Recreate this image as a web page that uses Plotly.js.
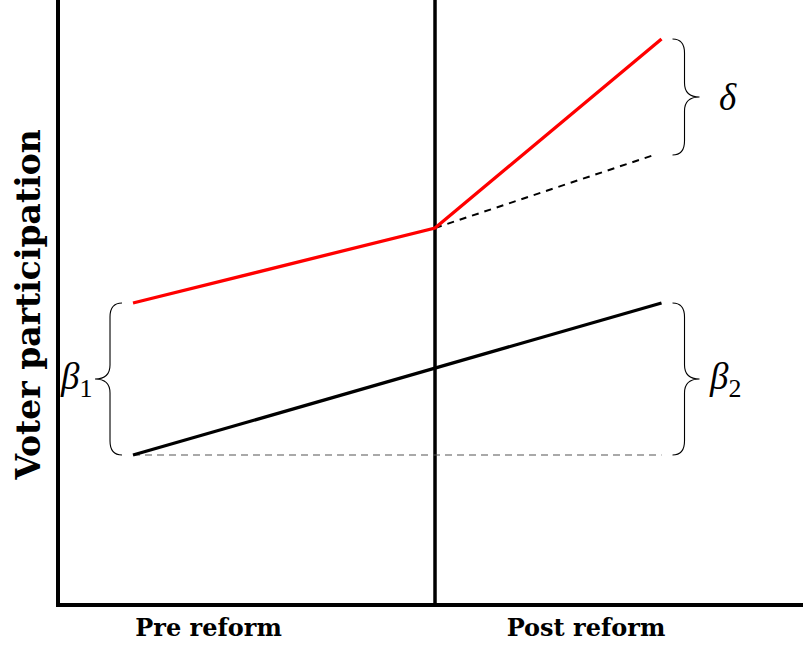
<!DOCTYPE html>
<html>
<head>
<meta charset="utf-8">
<script src="https://cdn.plot.ly/plotly-3.0.1.min.js"></script>
<style>html,body{margin:0;padding:0;background:#fff;}#chart{width:803px;height:646px;}</style>
</head>
<body>
<div id="chart"></div>
<script>
// ---- data ----
const periodX = [1, 5, 8];                 // start, reform, end
const reformX = 5;
const treatedY = [6.04, 7.54, 11.32];      // red group
const controlY = [3.0, 6.04];              // black group (start, end)
const controlX = [1, 8];
const counterfactualX = [5, 7.9];
const counterfactualY = [7.54, 9.0];
const baselineX = [1, 8];
const baselineY = [3.0, 3.0];
const tickPos = [2, 7];
const tickText = ['Pre reform', 'Post reform'];
const yTitle = 'Voter participation';
const labelBeta1 = '<i>β</i><sub>1</sub>';
const labelBeta2 = '<i>β</i><sub>2</sub>';
const labelDelta = '<i>δ</i>';

// ---- geometry ----
const L = 60, R = 0, T = 0, B = 43, W = 803, H = 646;
const xr = [0.033, 9.874], yr = [0.04, 12.1];
const sx = (W - L - R) / (xr[1] - xr[0]);   // px per x unit
const sy = (H - T - B) / (yr[1] - yr[0]);   // px per y unit

function brace(xAnchor, top, bot, dir) {
  const tip = xAnchor + dir * 11 / sx;
  const spine = tip + dir * 12 / sx;
  const point = tip + dir * 27 / sx;
  const mid = (top + bot) / 2;
  const r = 14 / sy;
  return 'M' + tip + ',' + top +
    ' Q' + spine + ',' + top + ' ' + spine + ',' + (top - r) +
    ' L' + spine + ',' + (mid + r) +
    ' Q' + spine + ',' + mid + ' ' + point + ',' + mid +
    ' Q' + spine + ',' + mid + ' ' + spine + ',' + (mid - r) +
    ' L' + spine + ',' + (bot + r) +
    ' Q' + spine + ',' + bot + ' ' + tip + ',' + bot;
}

const traces = [
  {x: baselineX, y: baselineY, mode: 'lines', line: {color: '#555', width: 1.2, dash: '7px,5px'}, hoverinfo: 'skip'},
  {x: controlX, y: controlY, mode: 'lines', line: {color: '#000', width: 3.3}, hoverinfo: 'skip'},
  {x: counterfactualX, y: counterfactualY, mode: 'lines', line: {color: '#000', width: 2, dash: '7px,6px'}, hoverinfo: 'skip'},
  {x: periodX, y: treatedY, mode: 'lines', line: {color: '#ff0000', width: 3.3}, hoverinfo: 'skip'}
];

const braceLine = {color: '#000', width: 1.1};
const shapes = [
  {type: 'line', xref: 'x', yref: 'paper', x0: reformX, x1: reformX, y0: 0, y1: 1, line: {color: '#000', width: 3.5}, layer: 'below'},
  {type: 'path', xref: 'x', yref: 'y', path: brace(periodX[0], treatedY[0], controlY[0], -1), line: braceLine},
  {type: 'path', xref: 'x', yref: 'y', path: brace(controlX[1], controlY[1], baselineY[1], 1), line: braceLine},
  {type: 'path', xref: 'x', yref: 'y', path: brace(periodX[2], treatedY[2], counterfactualY[1], 1), line: braceLine}
];

const mathFont = {family: 'Liberation Serif, DejaVu Serif, serif', size: 37, color: '#000'};
const annotations = [
  {x: periodX[0] - 39 / sx, y: (treatedY[0] + controlY[0]) / 2, xref: 'x', yref: 'y', text: labelBeta1, showarrow: false, xanchor: 'right', yanchor: 'middle', font: mathFont},
  {x: controlX[1] + 45 / sx, y: (controlY[1] + baselineY[1]) / 2, xref: 'x', yref: 'y', text: labelBeta2, showarrow: false, xanchor: 'left', yanchor: 'middle', font: mathFont},
  {x: periodX[2] + 55 / sx, y: (treatedY[2] + counterfactualY[1]) / 2, xref: 'x', yref: 'y', text: labelDelta, showarrow: false, xanchor: 'left', yanchor: 'middle', font: mathFont},
  {x: 0, y: 0.5, xref: 'paper', yref: 'paper', xshift: -32, yshift: -4, text: '<b>' + yTitle + '</b>', textangle: -90, showarrow: false, xanchor: 'center', yanchor: 'middle', font: {family: 'DejaVu Serif, serif', size: 33, color: '#000'}}
];

const layout = {
  width: W, height: H,
  margin: {l: L, r: R, t: T, b: B, pad: 0},
  paper_bgcolor: '#fff', plot_bgcolor: '#fff',
  showlegend: false,
  xaxis: {range: xr, showgrid: false, zeroline: false, showline: true, linecolor: '#000', linewidth: 4,
          tickmode: 'array', tickvals: tickPos, ticktext: tickText, ticks: '', ticklabelstandoff: 0,
          tickfont: {family: 'DejaVu Serif, serif', size: 24, color: '#000', weight: 'bold'}, fixedrange: true},
  yaxis: {range: yr, showgrid: false, zeroline: false, showline: true, linecolor: '#000', linewidth: 4,
          showticklabels: false, ticks: '', fixedrange: true},
  shapes: shapes,
  annotations: annotations
};

Plotly.newPlot('chart', traces, layout, {displayModeBar: false, staticPlot: true});
</script>
</body>
</html>
